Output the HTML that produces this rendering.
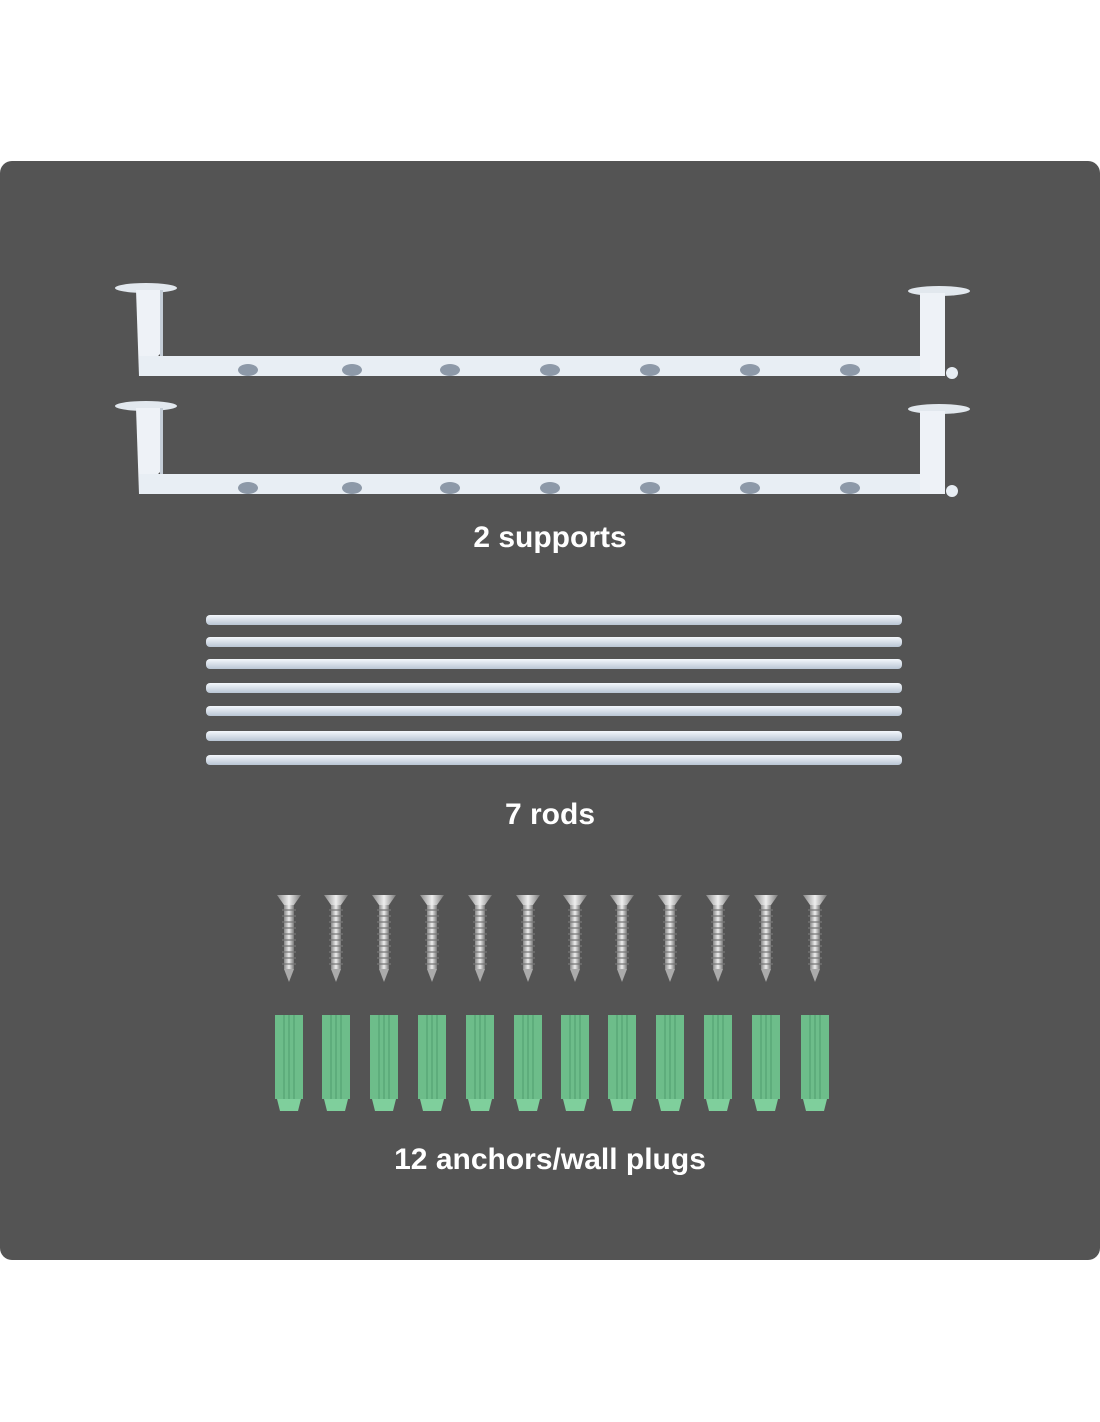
<!DOCTYPE html>
<html><head><style>
body{margin:0;background:#fff;width:1100px;height:1422px;overflow:hidden}
svg{display:block}
text{font-family:"Liberation Sans",sans-serif;font-weight:bold;font-size:30px;fill:#fff}
</style></head><body>
<svg width="1100" height="1422" viewBox="0 0 1100 1422">
<defs>
<linearGradient id="rod" x1="0" y1="0" x2="0" y2="1"><stop offset="0" stop-color="#f4f8fc"/><stop offset="1" stop-color="#b9c6d4"/></linearGradient>
<linearGradient id="scr" x1="0" y1="0" x2="1" y2="0"><stop offset="0" stop-color="#888"/><stop offset=".5" stop-color="#eee"/><stop offset="1" stop-color="#777"/></linearGradient>
<g id="sup">
<ellipse cx="146" cy="0" rx="31" ry="5" fill="#e2e8ee"/>
<polygon points="136,2 160,2 160,66 139,88" fill="#eef2f7"/>
<polygon points="139,68 945,68 945,88 139,88" fill="#e8eef4"/>
<polygon points="160,2 163,2 163,68 160,68" fill="#c5ced8"/>
<ellipse cx="939" cy="3" rx="31" ry="5" fill="#e2e8ee"/>
<rect x="920" y="5" width="25" height="83" fill="#eef2f7"/>
<circle cx="952" cy="85" r="6" fill="#e8eef4"/>
<g fill="#8d99a8">
<ellipse cx="248" cy="82" rx="10" ry="6"/><ellipse cx="352" cy="82" rx="10" ry="6"/><ellipse cx="450" cy="82" rx="10" ry="6"/><ellipse cx="550" cy="82" rx="10" ry="6"/><ellipse cx="650" cy="82" rx="10" ry="6"/><ellipse cx="750" cy="82" rx="10" ry="6"/><ellipse cx="850" cy="82" rx="10" ry="6"/>
</g>
</g>
<g id="screw">
<path d="M-12,0 L12,0 L5,10 L-5,10Z" fill="url(#scr)"/>
<rect x="-5" y="10" width="10" height="64" fill="url(#scr)"/>
<path d="M-5,74 L5,74 L0,87Z" fill="#aaa"/>
<g stroke="#777" stroke-width="1.2"><path d="M-7,15h14M-7,21h14M-7,27h14M-7,33h14M-7,39h14M-7,45h14M-7,51h14M-7,57h14M-7,63h14M-7,69h14"/></g>
</g>
<g id="anc">
<rect x="-14" y="0" width="28" height="84" fill="#6dbd8a"/>
<path d="M-5,0v84M0,0v84M5,0v84" stroke="#5aa877" stroke-width="1.5"/>
<path d="M-12,84 L12,84 L9,96 L-9,96Z" fill="#7fcf9c"/>
</g>
</defs>
<rect x="0" y="161" width="1100" height="1099" rx="12" fill="#545454"/>
<use href="#sup" transform="translate(0,288)"/>
<use href="#sup" transform="translate(0,406)"/>
<text x="550" y="547" text-anchor="middle">2 supports</text>
<g fill="url(#rod)">
<rect x="206" y="615" width="696" height="10" rx="4"/>
<rect x="206" y="637" width="696" height="10" rx="4"/>
<rect x="206" y="659" width="696" height="10" rx="4"/>
<rect x="206" y="683" width="696" height="10" rx="4"/>
<rect x="206" y="706" width="696" height="10" rx="4"/>
<rect x="206" y="731" width="696" height="10" rx="4"/>
<rect x="206" y="755" width="696" height="10" rx="4"/>
</g>
<text x="550" y="824" text-anchor="middle">7 rods</text>
<g>
<use href="#screw" x="289" y="895"/><use href="#screw" x="336" y="895"/><use href="#screw" x="384" y="895"/><use href="#screw" x="432" y="895"/><use href="#screw" x="480" y="895"/><use href="#screw" x="528" y="895"/><use href="#screw" x="575" y="895"/><use href="#screw" x="622" y="895"/><use href="#screw" x="670" y="895"/><use href="#screw" x="718" y="895"/><use href="#screw" x="766" y="895"/><use href="#screw" x="815" y="895"/>
<use href="#anc" x="289" y="1015"/><use href="#anc" x="336" y="1015"/><use href="#anc" x="384" y="1015"/><use href="#anc" x="432" y="1015"/><use href="#anc" x="480" y="1015"/><use href="#anc" x="528" y="1015"/><use href="#anc" x="575" y="1015"/><use href="#anc" x="622" y="1015"/><use href="#anc" x="670" y="1015"/><use href="#anc" x="718" y="1015"/><use href="#anc" x="766" y="1015"/><use href="#anc" x="815" y="1015"/>
</g>
<text x="550" y="1169" text-anchor="middle">12 anchors/wall plugs</text>
</svg>
</body></html>
